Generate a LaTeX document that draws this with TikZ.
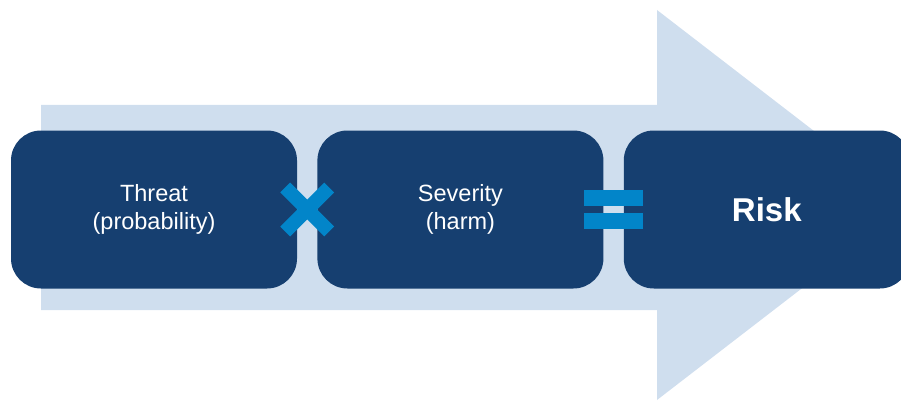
\documentclass[tikz,border=0pt]{standalone}
\usepackage{fontspec}
\setmainfont{Liberation Sans}
\usetikzlibrary{positioning,calc}
\definecolor{boxblue}{RGB}{22,63,112}
\definecolor{arrowblue}{RGB}{207,222,238}
\definecolor{signblue}{RGB}{2,133,201}

\begin{document}
\begin{tikzpicture}[x=1pt,y=-1pt,
    factor/.style={fill=boxblue, rounded corners=30pt, minimum width=286pt,
      minimum height=158pt, inner sep=0pt, text=white, align=center,
      font=\fontsize{23.5}{28}\selectfont},
    sign/.style={signblue, line width=14pt}]
  \useasboundingbox (0,0) rectangle (901,401);
  \clip (0,0) rectangle (901,401);

  % big arrow behind
  \fill[arrowblue] (41,105) -- (657,105) -- (657,10) -- (910,205)
    -- (657,400) -- (657,310) -- (41,310) -- cycle;

  % the three boxes
  \node[factor] (threat) at (154,209.5) {Threat\\(probability)};
  \node[factor, right=20pt of threat] (severity) {Severity\\(harm)};
  \node[factor, right=20pt of severity, font=\fontsize{33}{40}\selectfont\bfseries] (risk) {Risk};

  % times
  \coordinate (times) at ($(threat.east)!0.5!(severity.west)$);
  \draw[sign] ($(times)+(-22,-22)$) -- ($(times)+(22,22)$);
  \draw[sign] ($(times)+(-22,22)$) -- ($(times)+(22,-22)$);

  % equals
  \coordinate (equals) at ($(severity.east)!0.5!(risk.west)$);
  \fill[signblue] ($(equals)+(-29.5,-19.5)$) rectangle ($(equals)+(29.5,-3.5)$);
  \fill[signblue] ($(equals)+(-29.5,3.5)$) rectangle ($(equals)+(29.5,19.5)$);
\end{tikzpicture}
\end{document}
